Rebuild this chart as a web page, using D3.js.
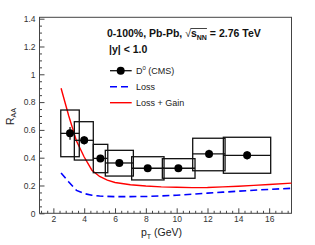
<!DOCTYPE html>
<html>
<head>
<meta charset="utf-8">
<script src="https://cdn.jsdelivr.net/npm/d3@7"></script>
<style>
  body { margin: 0; background: #fff; }
  svg { display: block; font-family: "Liberation Sans", Arial, sans-serif; }
</style>
</head>
<body>
<div id="chart"></div>
<script>
// D0 (CMS) points
var ptD0 = [3.08, 4.0, 5.05, 6.28, 8.12, 10.11, 12.1, 14.57];
var raaD0 = [0.575, 0.525, 0.395, 0.362, 0.324, 0.324, 0.427, 0.417];
var statErr = [0.045, 0.03, 0.025, 0.02, 0.02, 0.02, 0.03, 0.03];
// systematic boxes
var boxPtLow = [2.48, 3.36, 4.59, 5.37, 7.08, 9.07, 11.04, 13.03];
var boxPtHigh = [3.68, 4.59, 5.53, 7.19, 9.18, 11.19, 13.14, 16.1];
var sysLow = [0.407, 0.383, 0.292, 0.268, 0.24, 0.252, 0.306, 0.288];
var sysHigh = [0.743, 0.659, 0.496, 0.453, 0.407, 0.393, 0.54, 0.547];

// model curves
var ptLoss = [2.5, 3.0, 3.5, 4.0, 4.5, 5.0, 6.0, 7.0, 8.0, 9.0, 10.0, 11.0, 12.0, 13.0, 14.0, 15.0, 16.0, 17.45];
var raaLoss = [0.29, 0.225, 0.165, 0.142, 0.13, 0.124, 0.12, 0.12, 0.121, 0.125, 0.13, 0.137, 0.145, 0.152, 0.159, 0.166, 0.172, 0.18];
var ptGain = [2.5, 3.0, 3.5, 4.0, 4.5, 5.0, 5.5, 6.0, 7.0, 8.0, 9.0, 10.0, 11.0, 12.0, 13.0, 14.0, 15.0, 16.0, 17.45];
var raaGain = [0.9, 0.7, 0.52, 0.405, 0.31, 0.265, 0.238, 0.222, 0.205, 0.196, 0.19, 0.187, 0.185, 0.186, 0.19, 0.195, 0.201, 0.207, 0.217];

var xTicks = [2, 4, 6, 8, 10, 12, 14, 16];
var yTicks = [0, 0.2, 0.4, 0.6, 0.8, 1, 1.2, 1.4];

var W = 315, H = 245;
var margin = {top: 17.3, right: 23.5, bottom: 31.7, left: 39.5};

var svg = d3.select("#chart").append("svg")
    .attr("width", W)
    .attr("height", H);

var x = d3.scaleLinear().domain([1.1, 17.45]).range([margin.left, W - margin.right]);
var y = d3.scaleLinear().domain([0, 1.41]).range([H - margin.bottom, margin.top]);

// frame
svg.append("rect")
    .attr("x", x.range()[0])
    .attr("y", y.range()[1])
    .attr("width", x.range()[1] - x.range()[0])
    .attr("height", y.range()[0] - y.range()[1])
    .attr("fill", "none")
    .attr("stroke", "#444")
    .attr("stroke-width", 1);

// x axis (ticks pointing inside)
var xMinor = d3.range(1.2, 17.45, 0.4).filter(function (v) { return Math.abs(v / 2 - Math.round(v / 2)) > 0.01; });
var xAxis = svg.append("g").attr("transform", "translate(0," + y.range()[0] + ")");
xAxis.call(d3.axisBottom(x).tickValues(xMinor).tickSize(-2.5).tickFormat(""));
xAxis.append("g").call(d3.axisBottom(x).tickValues(xTicks).tickSize(-5).tickPadding(3).tickFormat(d3.format("d")));
xAxis.selectAll(".domain").remove();
xAxis.selectAll("line").attr("stroke", "#444");
xAxis.selectAll("text").attr("font-size", 8.5).attr("fill", "#333")
    .attr("font-family", "Liberation Sans, Arial, sans-serif");

// y axis
var yMinor = d3.range(0.05, 1.41, 0.05).filter(function (v) { return Math.abs(v / 0.2 - Math.round(v / 0.2)) > 0.01; });
var yAxis = svg.append("g").attr("transform", "translate(" + x.range()[0] + ",0)");
yAxis.call(d3.axisLeft(y).tickValues(yMinor).tickSize(-2.5).tickFormat(""));
yAxis.append("g").call(d3.axisLeft(y).tickValues(yTicks).tickSize(-5).tickPadding(4).tickFormat(function (d) { return d3.format("")(+d.toFixed(1)); }));
yAxis.selectAll(".domain").remove();
yAxis.selectAll("line").attr("stroke", "#444");
yAxis.selectAll("text").attr("font-size", 8.5).attr("fill", "#333")
    .attr("font-family", "Liberation Sans, Arial, sans-serif");

// model curves
var line = d3.line().x(function (d) { return x(d[0]); }).y(function (d) { return y(d[1]); });

svg.append("path")
    .datum(d3.zip(ptLoss, raaLoss))
    .attr("d", line)
    .attr("fill", "none")
    .attr("stroke", "#0000ff")
    .attr("stroke-width", 1.6)
    .attr("stroke-dasharray", "7,4");

svg.append("path")
    .datum(d3.zip(ptGain, raaGain))
    .attr("d", line)
    .attr("fill", "none")
    .attr("stroke", "#ff0000")
    .attr("stroke-width", 1.4);

// D0 boxes, error bars and markers
var d0 = ptD0.map(function (p, i) {
    return {pt: p, raa: raaD0[i], err: statErr[i], lo: boxPtLow[i], hi: boxPtHigh[i], sl: sysLow[i], sh: sysHigh[i]};
});

var pts = svg.append("g").selectAll("g").data(d0).enter().append("g");
pts.append("rect")
    .attr("x", function (d) { return x(d.lo); })
    .attr("y", function (d) { return y(d.sh); })
    .attr("width", function (d) { return x(d.hi) - x(d.lo); })
    .attr("height", function (d) { return y(d.sl) - y(d.sh); })
    .attr("fill", "none")
    .attr("stroke", "#111")
    .attr("stroke-width", 1.3);
pts.append("line")
    .attr("x1", function (d) { return x(d.lo); })
    .attr("x2", function (d) { return x(d.hi); })
    .attr("y1", function (d) { return y(d.raa); })
    .attr("y2", function (d) { return y(d.raa); })
    .attr("stroke", "#111")
    .attr("stroke-width", 1.3);
pts.append("line")
    .attr("x1", function (d) { return x(d.pt); })
    .attr("x2", function (d) { return x(d.pt); })
    .attr("y1", function (d) { return y(d.raa - d.err); })
    .attr("y2", function (d) { return y(d.raa + d.err); })
    .attr("stroke", "#111")
    .attr("stroke-width", 1.3);
pts.append("circle")
    .attr("cx", function (d) { return x(d.pt); })
    .attr("cy", function (d) { return y(d.raa); })
    .attr("r", 4)
    .attr("fill", "#000");

// header text
var header = svg.append("text")
    .attr("x", 107)
    .attr("y", 37)
    .attr("font-size", 10.5)
    .attr("font-weight", "bold")
    .attr("fill", "#111");
header.append("tspan").text("0-100%, Pb-Pb, ");
header.append("tspan").attr("font-weight", "normal").text("\u221A");
header.append("tspan").text("s");
header.append("tspan").attr("font-size", 7).attr("dy", 2.5).text("NN");
header.append("tspan").attr("dy", -2.5).text(" = 2.76 TeV");

// overline for the square root
var hn = header.node();
var full = hn.textContent;
var iRoot = full.indexOf("\u221A");
var iEnd = full.indexOf("NN") + 1;
var rb = hn.getExtentOfChar(iRoot);
var eb = hn.getExtentOfChar(iEnd);
svg.append("line")
    .attr("x1", rb.x + rb.width - 0.5)
    .attr("x2", eb.x + eb.width)
    .attr("y1", rb.y + 1.5)
    .attr("y2", rb.y + 1.5)
    .attr("stroke", "#111")
    .attr("stroke-width", 0.8);

svg.append("text")
    .attr("x", 109)
    .attr("y", 53)
    .attr("font-size", 10.5)
    .attr("font-weight", "bold")
    .attr("fill", "#111")
    .text("|y| < 1.0");

// legend
var legY = [70.7, 86.7, 102.7];
var leg = svg.append("g");
leg.append("line").attr("x1", 110).attr("x2", 131.7).attr("y1", legY[0]).attr("y2", legY[0])
    .attr("stroke", "#111").attr("stroke-width", 1.3);
leg.append("circle").attr("cx", 120.7).attr("cy", legY[0]).attr("r", 4).attr("fill", "#000");
leg.append("line").attr("x1", 110).attr("x2", 131.7).attr("y1", legY[1]).attr("y2", legY[1])
    .attr("stroke", "#0000ff").attr("stroke-width", 1.6).attr("stroke-dasharray", "7,4");
leg.append("line").attr("x1", 110).attr("x2", 131.7).attr("y1", legY[2]).attr("y2", legY[2])
    .attr("stroke", "#ff0000").attr("stroke-width", 1.4);

var t0 = leg.append("text").attr("x", 136).attr("y", legY[0] + 3.5).attr("font-size", 9).attr("fill", "#222");
t0.append("tspan").text("D");
t0.append("tspan").attr("font-size", 6).attr("dy", -4).text("0");
t0.append("tspan").attr("dy", 4).text(" (CMS)");
leg.append("text").attr("x", 136).attr("y", legY[1] + 3.5).attr("font-size", 9).attr("fill", "#222").text("Loss");
leg.append("text").attr("x", 136).attr("y", legY[2] + 3.5).attr("font-size", 9).attr("fill", "#222").text("Loss + Gain");

// axis titles
var xt = svg.append("text").attr("x", 141).attr("y", 236).attr("font-size", 10.5).attr("fill", "#222");
xt.append("tspan").text("p");
xt.append("tspan").attr("font-size", 7).attr("dy", 3).text("T");
xt.append("tspan").attr("dy", -3).text(" (GeV)");

var yt = svg.append("text")
    .attr("transform", "translate(13.5,125) rotate(-90)")
    .attr("font-size", 10.5)
    .attr("fill", "#222");
yt.append("tspan").text("R");
yt.append("tspan").attr("font-size", 7).attr("dy", 2.5).text("AA");
</script>
</body>
</html>
